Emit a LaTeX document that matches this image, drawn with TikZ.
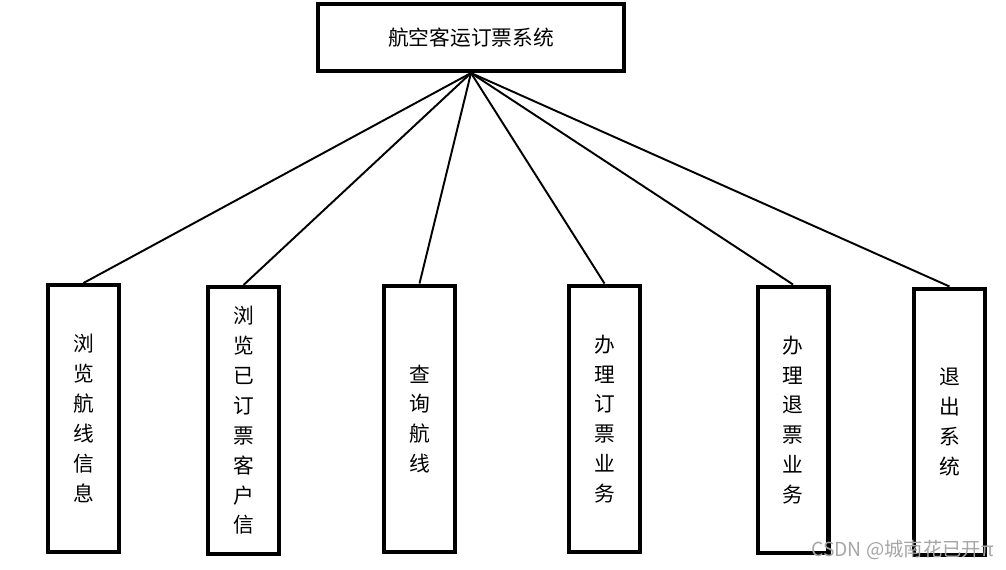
\documentclass[tikz,border=0pt]{standalone}
\usepackage{fontspec}
\setmainfont{Noto Sans CJK SC}
\begin{document}
\begin{tikzpicture}[x=0.02cm, y=-0.02cm,
    box/.style={draw, line width=2.3pt, inner sep=0pt, minimum width=1.42cm, minimum height=5.34cm,
      align=center, font=\fontsize{11.8pt}{17pt}\selectfont},
    link/.style={line width=1.1pt}]
            \useasboundingbox (0,0) rectangle (1006,570);

            \node[draw, line width=2.3pt, minimum width=6.12cm, minimum height=1.34cm,
              font=\fontsize{11.8pt}{17pt}\selectfont] (sys) at (471,37.5) {航空客运订票系统};

            \node[box] (browse) at (83.5,418.5) {浏\\览\\航\\线\\信\\息};
            \node[box] (booked) at (243.5,420.5) {浏\\览\\已\\订\\票\\客\\户\\信};
            \node[box] (query) at (419.5,419) {查\\询\\航\\线};
            \node[box] (book) at (604.5,419) {办\\理\\订\\票\\业\\务};
            \node[box] (refund) at (793,420) {办\\理\\退\\票\\业\\务};
            \node[box] (quit) at (949.5,422) {退\\出\\系\\统};

            \foreach \b in {browse,booked,query,book,refund,quit}
              \draw[link] (sys.south) -- (\b.north);

            \node[anchor=west, text=gray!70, font=\fontsize{11pt}{13pt}\selectfont] (mark) at (805,550) {CSDN @城南花已开π};
        \end{tikzpicture}
\end{document}
